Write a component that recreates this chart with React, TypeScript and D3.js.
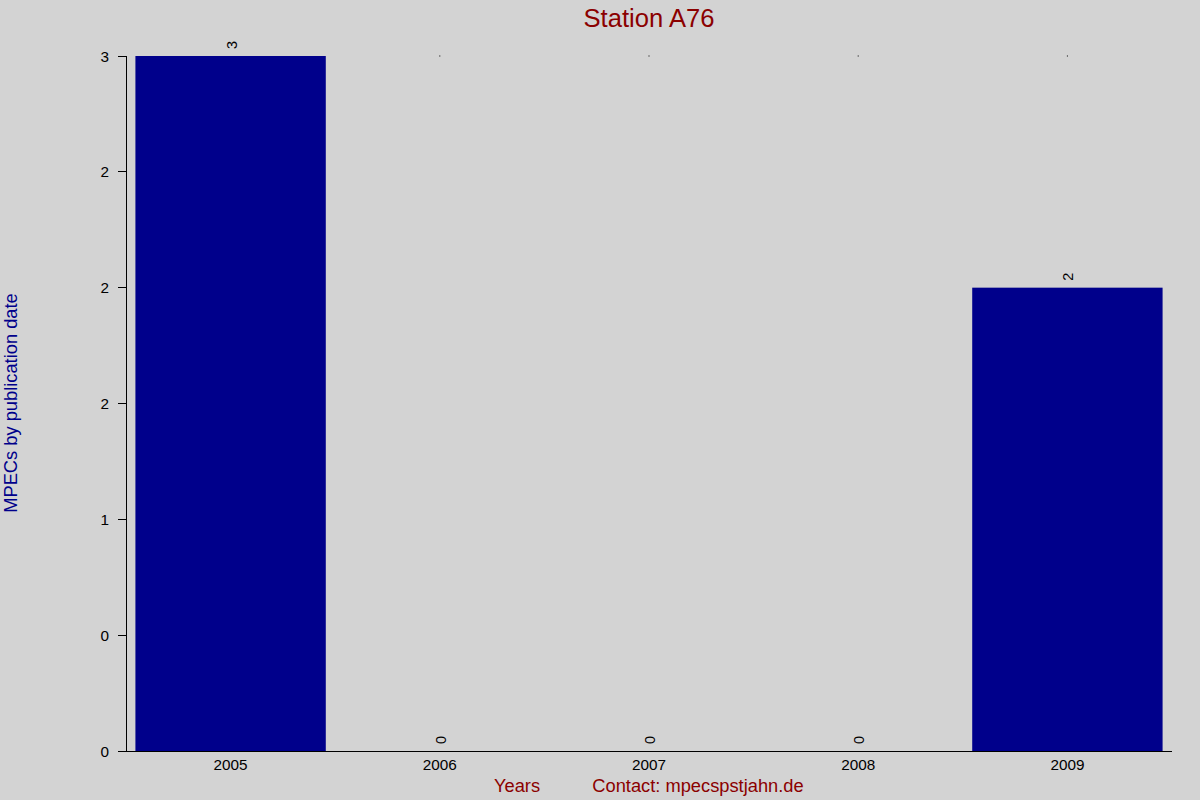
import React, { useEffect, useRef } from "react";
import * as d3 from "d3";

const years = ["2005", "2006", "2007", "2008", "2009"];
const counts = [3, 0, 0, 0, 2];
const yTickValues = [0, 0.5, 1, 1.5, 2, 2.5, 3];
const yTickLabels = ["0", "0", "1", "2", "2", "2", "3"];

const W = 1200;
const H = 800;
const FONT = "'Liberation Sans', Arial, sans-serif";

export default function App() {
  const ref = useRef<SVGSVGElement | null>(null);

  useEffect(() => {
    document.body.style.margin = "0";
    const svg = d3.select(ref.current);
    svg.selectAll("*").remove();

    const left = 126, right = 1172, top = 56, bottom = 751;
    const x = d3.scaleBand<string>().domain(years).range([left, right]).paddingInner(0.09).paddingOuter(0.045);
    const y = d3.scaleLinear().domain([0, 3]).range([bottom, top]);

    svg.append("rect").attr("width", W).attr("height", H).attr("fill", "#d3d3d3");

    // title
    svg.append("text").attr("x", 649).attr("y", 27).attr("text-anchor", "middle")
      .attr("font-family", FONT).attr("font-size", 25.6).attr("fill", "#8b0000").text("Station A76");

    // y label
    svg.append("text").attr("transform", `translate(17,403) rotate(-90)`).attr("text-anchor", "middle")
      .attr("font-family", FONT).attr("font-size", 18.3).attr("fill", "#00008b").text("MPECs by publication date");

    // bottom labels
    svg.append("text").attr("x", 517).attr("y", 792).attr("text-anchor", "middle")
      .attr("font-family", FONT).attr("font-size", 18.3).attr("fill", "#8b0000").text("Years");
    svg.append("text").attr("x", 698).attr("y", 792).attr("text-anchor", "middle")
      .attr("font-family", FONT).attr("font-size", 18.3).attr("fill", "#8b0000").text("Contact: mpecspstjahn.de");

    // bars
    svg.selectAll("rect.bar").data(years).enter().append("rect").attr("class", "bar")
      .attr("x", (d) => x(d)!)
      .attr("width", x.bandwidth())
      .attr("y", (_d, i) => y(counts[i]))
      .attr("height", (_d, i) => bottom - y(counts[i]))
      .attr("fill", "#00008b");

    // small top dots
    svg.selectAll("rect.dot").data(years.filter((_d, i) => counts[i] !== 3)).enter().append("rect")
      .attr("class", "dot")
      .attr("x", (d) => x(d)! + x.bandwidth() / 2 - 0.5)
      .attr("y", y(3) - 0.5)
      .attr("width", 1).attr("height", 1).attr("fill", "#000");

    // value labels
    svg.selectAll("text.val").data(years).enter().append("text").attr("class", "val")
      .attr("transform", (d, i) => `translate(${x(d)! + x.bandwidth() / 2 + 1},${y(counts[i]) - 7}) rotate(-90)`)
      .attr("dominant-baseline", "central")
      .attr("text-anchor", "start")
      .attr("font-family", FONT).attr("font-size", 14.5).attr("fill", "#000")
      .text((_d, i) => String(counts[i]));

    // y axis
    svg.append("line").attr("x1", left).attr("x2", left).attr("y1", top).attr("y2", bottom)
      .attr("stroke", "#000").attr("stroke-width", 1).attr("shape-rendering", "crispEdges");
    yTickValues.forEach((v, i) => {
      svg.append("line").attr("x1", 118).attr("x2", left).attr("y1", y(v)).attr("y2", y(v))
        .attr("stroke", "#000").attr("shape-rendering", "crispEdges");
      svg.append("text").attr("x", 109).attr("y", y(v)).attr("dominant-baseline", "central")
        .attr("text-anchor", "end").attr("font-family", FONT).attr("font-size", 15.3).attr("fill", "#000")
        .text(yTickLabels[i]);
    });

    // x axis
    svg.append("line").attr("x1", 118).attr("x2", right).attr("y1", bottom).attr("y2", bottom)
      .attr("stroke", "#000").attr("shape-rendering", "crispEdges");
    svg.selectAll("text.xt").data(years).enter().append("text").attr("class", "xt")
      .attr("x", (d) => x(d)! + x.bandwidth() / 2)
      .attr("y", 770)
      .attr("text-anchor", "middle")
      .attr("font-family", FONT).attr("font-size", 15.3).attr("fill", "#000")
      .text((d) => d);
  }, []);

  return <svg ref={ref} width={W} height={H} style={{ display: "block" }} />;
}
